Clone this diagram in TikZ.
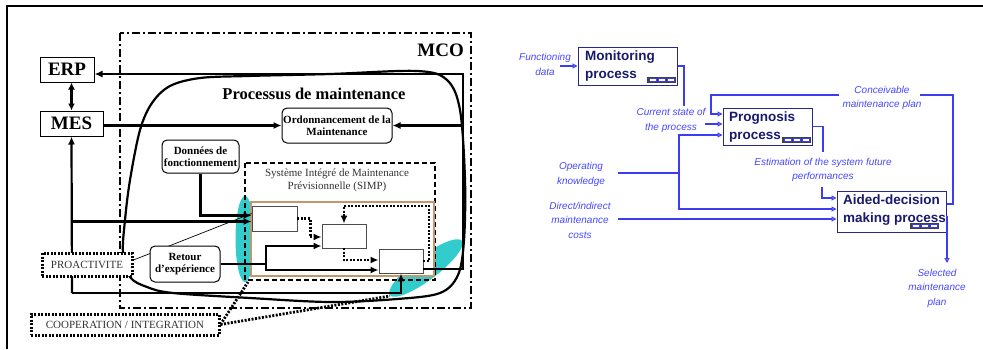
\documentclass[tikz,border=0pt]{standalone}
\usepackage{fontspec}
\setmainfont{Liberation Serif}
\newfontfamily\arialf{Liberation Sans}
\usetikzlibrary{arrows.meta}
\definecolor{teal1}{RGB}{51,204,204}
\definecolor{tan1}{RGB}{196,150,110}
\definecolor{navy1}{RGB}{25,25,110}
\definecolor{navyb}{RGB}{40,40,140}
\definecolor{lblue}{RGB}{70,70,255}
\definecolor{lineb}{RGB}{60,60,240}
\begin{document}
\begin{tikzpicture}[x=1pt,y=-1pt,
  thk/.style={line width=2.2pt},
  arr/.style={thk,-{Latex[length=8pt,width=7pt]}},
  dotl/.style={line width=2.8pt, dash pattern=on 2pt off 1.5pt},
  darr/.style={dotl,-{Latex[length=8pt,width=7pt]}},
  lbox/.style={draw, line width=1pt, fill=white, inner sep=1pt, align=center},
  rbox/.style={lbox, rounded corners=5pt},
  dotbox/.style={draw, line width=3pt, dash pattern=on 2pt off 1.5pt, fill=white, inner sep=1pt, text=black!80},
  sbox/.style={draw=black!70, line width=0.9pt, fill=white, inner sep=0pt},
  idefbox/.style={draw=navyb, line width=1pt, fill=white, inner sep=0pt},
  idefT/.style={font=\arialf\bfseries\fontsize{13.5}{18.5}\selectfont, text=navy1, align=left, inner sep=0pt},
  lbl/.style={font=\arialf\itshape\fontsize{10}{14.5}\selectfont, text=lblue, align=center, inner sep=0pt},
  bl/.style={draw=lineb, line width=1.1pt},
  barr/.style={bl, -{Triangle[open,length=5pt,width=5pt]}},
  bigb/.style={font=\bfseries\fontsize{19}{21}\selectfont, inner sep=0pt},
  smb/.style={font=\bfseries\fontsize{11}{12.5}\selectfont},
  smn/.style={font=\fontsize{11}{13}\selectfont}
]
\useasboundingbox (0,0) rectangle (983,349);
% frame
\draw[line width=2.2pt] (983,6) -- (7,6) -- (7,349);
% teal blobs
\fill[teal1] (245,239) ellipse [x radius=9.5, y radius=43];
\fill[teal1] plot[domain=0:360, samples=72, smooth cycle]
  ({426+45*cos(\x)*cos(37)+12*sin(\x)*sin(37)}, {268-45*cos(\x)*sin(37)+12*sin(\x)*cos(37)});
% MCO
\draw[line width=2.2pt, dash pattern=on 8pt off 3pt on 2pt off 3pt] (120,33) rectangle (471,308);
% SIMP dashed
\draw[line width=2pt, dash pattern=on 5pt off 3pt] (245,163) rectangle (435,280);
\draw[draw=tan1, line width=2.4pt, fill=white] (251,202) rectangle (434,276);
% processus blob
\draw[line width=2.2pt] plot[smooth cycle, tension=0.55] coordinates {
 (247,76) (330,74) (417,71) (447,80) (460,110) (465,180) (464,240) (458,275)
 (440,293) (397,299) (330,302) (250,298) (173,293) (147,287) (130,277)
 (123,253) (125,220) (130,180) (140,130) (152,103) (170,86) (200,78)};
% coordinates
\coordinate (R1) at (463,74);
\coordinate (R2) at (463,269);
\coordinate (R3) at (463,125.5);
\coordinate (L1) at (72,221.5);
\coordinate (L2) at (72,293);
\coordinate (J1) at (266,264);
\coordinate (D1) at (429,206);
\coordinate (C1) at (248,282);
\coordinate (C2) at (390,296);
% nodes
\node[lbox, bigb, minimum width=54, minimum height=25] (ERP) at (67,69.5) {ERP};
\node[lbox, bigb, minimum width=63, minimum height=25] (MES) at (71.5,123.5) {MES};
\node[rbox, smb, minimum width=110, minimum height=35] (Ord) at (337,125.5) {Ordonnancement de la\\Maintenance};
\node[rbox, smb, minimum width=77, minimum height=33] (Donn) at (200.5,156.5) {Donn\'ees de\\fonctionnement};
\node[sbox, minimum width=45, minimum height=25] (B1) at (274.5,218.5) {};
\node[sbox, minimum width=44, minimum height=24] (B2) at (344,236) {};
\node[sbox, minimum width=44, minimum height=24] (B3) at (401,261) {};
% connectors that pass behind PROACTIVITE
\draw[arr] (L2) -- (MES.south);
\draw[arr] (L1) -- ([yshift=-3]B1.west);
\draw[arr] (L2) -- (B3.south |- L2) -- (B3.south);
\node[dotbox, smn, minimum width=90, minimum height=23] (PRO) at (87,264.5) {PROACTIVITE};
\node[dotbox, smn, minimum width=188, minimum height=21] (COOP) at (125,324.5) {COOPERATION / INTEGRATION};
\draw[line width=0.7pt] ([yshift=4.5]PRO.east) -- ([yshift=5]B1.west);
\node[rbox, smb, minimum width=70, minimum height=36] (Ret) at (185,264) {Retour\\d'exp\'erience};
% connectors
\draw[arr] (B3.east |- R2) -- (R2) -- (R1) -- (ERP.east |- R1);
\draw[arr] (R3) -- (Ord.east);
\draw[arr] (MES.east |- Ord.west) -- (Ord.west);
\draw[thk,{Latex[length=7pt,width=7pt]}-{Latex[length=7pt,width=7pt]}] (MES.north) -- (MES.north |- ERP.south);
\draw[arr] (Donn.south) |- ([yshift=3]B1.west);
\draw[thk] (Ret.east) -- (J1);
\draw[arr] (J1) |- ([yshift=-10]B2.west);
\draw[arr] (J1) |- ([yshift=-9]B3.west);
\draw[darr] (B1.east) -- ++(13,0) |- ([yshift=-1]B2.west);
\draw[darr] (B2.south) |- ([yshift=1]B3.west);
\draw[darr] (B3.east) -| (D1) -| (B2.north);
\draw[dotl] (COOP.east) -- (C1);
\draw[dotl] (COOP.east) -- (C2);
% texts
\node[bigb, anchor=east] (MCO) at (464,50) {MCO};
\node[font=\bfseries\fontsize{16.5}{18}\selectfont, inner sep=0pt] (PM) at (314,94) {Processus de maintenance};
\node[smn, text=black!80, align=center, inner sep=0pt] (SIMP) at (337,180.5) {Syst\`eme Int\'egr\'e de Maintenance\\Pr\'evisionnelle (SIMP)};

% ===== right diagram =====
\node[idefbox, minimum width=99, minimum height=38] (Mon) at (627.5,66) {};
\node[idefT, anchor=west] (MonT) at (585,66) {Monitoring\\process};
\node[idefbox, minimum width=89, minimum height=37] (Prog) at (767.5,126.5) {};
\node[idefT, anchor=west] (ProgT) at (729,127) {Prognosis\\process};
\node[idefbox, minimum width=109, minimum height=41] (Aid) at (891.5,211.5) {};
\node[idefT, anchor=west] (AidT) at (843,210) {Aided-decision\\making process};
% icons
\tikzset{idicon/.pic={
  \fill[black!75] (-29,-6) rectangle (0,0);
  \foreach \i in {0,1,2} \draw[lineb, line width=0.6pt, fill=white] (-27+\i*9,-4.5) rectangle (-20+\i*9,-1.5);
}}
\pic at (676,83) {idicon};
\pic at (811,143) {idicon};
\pic at (939,229) {idicon};
% labels
\node[lbl] (FD) at (545,64.5) {Functioning\\data};
\node[lbl] (CS) at (671,120.5) {Current state of\\the process};
\node[lbl] (CP) at (882,98) {Conceivable\\maintenance plan};
\node[lbl] (OK) at (581,174.5) {Operating\\knowledge};
\node[lbl] (DC) at (580,220) {Direct/indirect\\maintenance\\costs};
\node[lbl] (EST) at (823,170) {Estimation of the system future\\performances};
\node[lbl] (SEL) at (937,288) {Selected\\maintenance\\plan};
% right coordinates
\coordinate (fdS) at (560,66);
\coordinate (csA) at (684,106);
\coordinate (csB) at (705,124);
\coordinate (fbA) at (953,204);
\coordinate (fbB) at (953,95);
\coordinate (cpA) at (920,95);
\coordinate (cpB) at (839,95);
\coordinate (fbC) at (711,95);
\coordinate (fbD) at (711,114);
\coordinate (okS) at (618,173);
\coordinate (okJ) at (679,173);
\coordinate (okT) at (679,135);
\coordinate (okB) at (679,209);
\coordinate (dcS) at (618,219);
\coordinate (esA) at (823,152);
\coordinate (esB) at (822,187);
\coordinate (esC) at (822,198);
\coordinate (slA) at (947,216);
\coordinate (slB) at (947,263);
% right connectors
\draw[barr] (fdS) -- (Mon.west);
\draw[bl] (Mon.east) -| (csA);
\draw[barr] (csB) -- (Prog.west |- csB);
\draw[bl] ([yshift=7.5]Aid.east) -- (fbA) -- (fbB) -- (cpA);
\draw[barr] (cpB) -- (fbC) -- (fbD) -- (Prog.west |- fbD);
\draw[bl] (okS) -- (okJ);
\draw[barr] (okJ) -- (okT) -- (Prog.west |- okT);
\draw[barr] (okJ) -- (okB) -- (Aid.west |- okB);
\draw[barr] (dcS) -- (Aid.west |- dcS);
\draw[bl] (Prog.east) -| (esA);
\draw[barr] (esB) -- (esC) -- (Aid.west |- esC);
\draw[barr] (slA) -- (slB);
\end{tikzpicture}
\end{document}
